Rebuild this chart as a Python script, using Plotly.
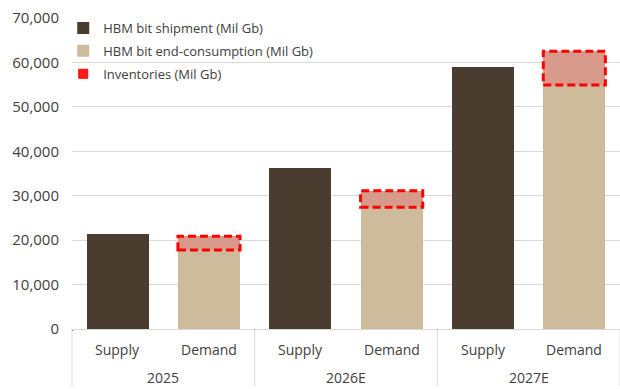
import plotly.graph_objects as go

years = ["2025", "2026E", "2027E"]
supply_label = "Supply"
demand_label = "Demand"
shipment = [21400, 36300, 59000]
consumption = [17800, 27400, 54900]
inventories = [3100, 3700, 7600]

BARGAP = 0.32
FONT = "Open Sans"
TXT = "#404040"
GRID = "#d9d9d9"
PLOT_H = 389 - 18 - 60

sup_x = [years, [supply_label] * len(years)]
dem_x = [years, [demand_label] * len(years)]

fig = go.Figure()
fig.add_trace(go.Bar(x=sup_x, y=shipment, name="HBM bit shipment (Mil Gb)", legendgroup="a",
                     marker=dict(color="#4b3c30", line=dict(width=0))))
fig.add_trace(go.Bar(x=dem_x, y=consumption, name="HBM bit end-consumption (Mil Gb)", legendgroup="b",
                     marker=dict(color="#cdbb9b", line=dict(width=0))))
fig.add_trace(go.Bar(x=dem_x, y=inventories, name="Inventories (Mil Gb)", showlegend=False,
                     legendgroup="c", marker=dict(color="#d89a8a", line=dict(width=0))))
# legend-only entry for inventories
fig.add_trace(go.Scatter(x=[None], y=[None], mode="markers", name="Inventories (Mil Gb)",
                         legendgroup="c",
                         marker=dict(symbol="square", size=9, color="#ff1a1a",
                                     line=dict(color="#ff0000", width=1))))

# dashed outlines around inventory segments
half = (1 - BARGAP) / 2
for i, (c, inv) in enumerate(zip(consumption, inventories)):
    idx = 2 * i + 1
    fig.add_shape(type="rect", xref="x", yref="y",
                  x0=idx - half, x1=idx + half, y0=c, y1=c + inv,
                  line=dict(color="#ff0000", width=3, dash="8px,4px"),
                  fillcolor="rgba(0,0,0,0)", layer="above")

# category labels as annotations (two rows)
for i, yr in enumerate(years):
    for j, lab in enumerate([supply_label, demand_label]):
        fig.add_annotation(x=2 * i + j, xref="x", y=0, yref="y", text=lab, showarrow=False,
                           yanchor="middle", yshift=-20, font=dict(size=14, color=TXT))
    fig.add_annotation(x=2 * i + 0.5, xref="x", y=0, yref="y", text=yr, showarrow=False,
                       yanchor="middle", yshift=-48, font=dict(size=14, color=TXT))

# group dividers below the axis
n = len(years)
for k in range(n + 1):
    fig.add_shape(type="line", xref="paper", yref="paper", x0=k / n, x1=k / n,
                  y0=0, y1=-57 / PLOT_H, line=dict(color=GRID, width=1))

fig.update_layout(
    width=620, height=389,
    barmode="stack", bargap=BARGAP,
    margin=dict(l=72, r=0, t=18, b=60),
    paper_bgcolor="white", plot_bgcolor="white",
    font=dict(family=FONT, size=14, color=TXT),
    legend=dict(x=-0.016, y=1.016, xanchor="left", yanchor="top", traceorder="grouped",
                bgcolor="rgba(0,0,0,0)", font=dict(size=13, color=TXT),
                itemwidth=30, tracegroupgap=3),
    showlegend=True,
)
fig.update_yaxes(range=[0, 70000], dtick=10000, tickformat=",", showgrid=True,
                 gridcolor=GRID, gridwidth=1, zeroline=False, showline=False,
                 ticks="", ticklabelstandoff=12, tickfont=dict(size=15, color=TXT))
fig.update_xaxes(showline=True, linecolor=GRID, linewidth=1, showticklabels=False,
                 ticks="")

fig.write_html("out.html")
